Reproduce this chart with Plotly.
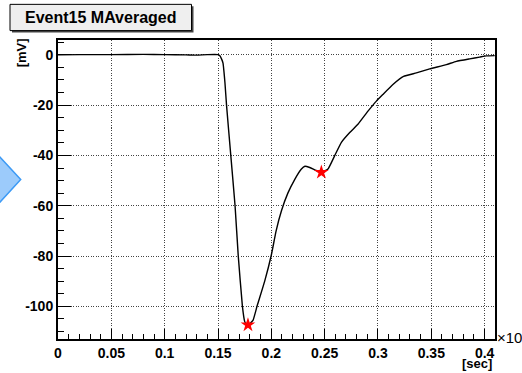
import plotly.graph_objects as go

# Averaged pulse waveform (time axis in units of 1e-3 s, amplitude in mV)
time_axis = [0.0, 0.02, 0.05, 0.08, 0.10, 0.12, 0.13, 0.14, 0.150, 0.1516,
             0.1535, 0.1547, 0.1565, 0.158, 0.162, 0.166, 0.169, 0.1729,
             0.175, 0.1765, 0.1781, 0.180, 0.1828, 0.1866, 0.1938, 0.200,
             0.2045, 0.2095, 0.2155, 0.222, 0.228, 0.2315, 0.236, 0.242,
             0.2469, 0.2531, 0.2594, 0.2657, 0.2735, 0.2812, 0.2906, 0.2985,
             0.3045, 0.314, 0.3240, 0.336, 0.3485, 0.3641, 0.3735, 0.386,
             0.3953, 0.4016, 0.4094]
amplitude = [0.0, 0.1, 0.1, 0.2, 0.1, 0.0, -0.1, 0.1, 0.1, -0.3,
             -1.8, -3.3, -11.0, -20.0, -40.0, -60.0, -80.0, -100.0,
             -106.0, -107.2, -107.4, -106.8, -105.6, -100.0, -90.0, -79.6,
             -70.0, -62.0, -55.0, -49.5, -45.5, -44.3, -44.8, -46.0,
             -46.7, -45.4, -40.1, -34.8, -30.9, -27.6, -22.4, -18.4,
             -15.8, -11.8, -8.6, -7.2, -5.6, -3.9, -2.6, -1.6,
             -0.9, -0.4, -0.3]

# Marked extrema
marker_t = [0.1781, 0.2469]
marker_v = [-107.4, -46.7]

x_ticks = [0, 0.05, 0.1, 0.15, 0.2, 0.25, 0.3, 0.35, 0.4]
x_labels = ["0", "0.05", "0.1", "0.15", "0.2", "0.25", "0.3", "0.35", "0.4"]
y_ticks = [-100, -80, -60, -40, -20, 0]
y_labels = ["-100", "-80", "-60", "-40", "-20", "0"]

W, H = 522, 373
ML, MR, MT, MB = 58, 27, 40, 31
PW, PH = W - ML - MR, H - MT - MB


def px(x):
    return (x - ML) / PW


def py(y):
    return (H - MB - y) / PH


FONT = "Liberation Sans, Arial, Helvetica, sans-serif"

fig = go.Figure()
fig.add_trace(go.Scatter(x=time_axis, y=amplitude, mode="lines",
                         line=dict(color="black", width=1.4, shape="spline",
                                   smoothing=0.4),
                         showlegend=False, hoverinfo="skip"))
fig.add_trace(go.Scatter(x=marker_t, y=marker_v, mode="markers",
                         marker=dict(symbol="star", color="red", size=11,
                                     line=dict(width=0)),
                         showlegend=False, hoverinfo="skip"))

axis_font = dict(family=FONT, size=14, color="black", weight="bold")

fig.update_xaxes(range=[0, 0.4097], tickvals=x_ticks, ticktext=x_labels,
                 ticks="inside", ticklen=10, tickwidth=1, tickcolor="black",
                 minor=dict(dtick=0.01, tick0=0, ticks="inside", ticklen=5,
                            tickcolor="black", showgrid=False),
                 showgrid=True, gridcolor="#444", gridwidth=1, griddash="1px,1.5px",
                 showline=True, linecolor="black", linewidth=2, mirror=True,
                 zeroline=False, tickfont=axis_font)
fig.update_yaxes(range=[-113, 5.9], tickvals=y_ticks, ticktext=y_labels,
                 ticks="inside", ticklen=13, tickwidth=1, tickcolor="black",
                 minor=dict(dtick=5, tick0=0, ticks="inside", ticklen=6,
                            tickcolor="black", showgrid=False),
                 showgrid=True, gridcolor="#444", gridwidth=1, griddash="1px,1.5px",
                 showline=True, linecolor="black", linewidth=2, mirror=True,
                 zeroline=False, tickfont=axis_font)

shapes = [
    # title box shadow and box
    dict(type="rect", xref="paper", yref="paper", x0=px(12), x1=px(193.5),
         y0=py(32.5), y1=py(6), fillcolor="#444", line=dict(width=0), layer="above"),
    dict(type="rect", xref="paper", yref="paper", x0=px(10), x1=px(191.5),
         y0=py(30.5), y1=py(4), fillcolor="#efefef",
         line=dict(color="black", width=1), layer="above"),
    # blue chevron at the left edge
    dict(type="path", xref="paper", yref="paper",
         path=f"M {px(-2)} {py(156)} L {px(20.7)} {py(181)} L {px(-2)} {py(206)} Z",
         fillcolor="#9ccbfb", line=dict(color="#3d9af5", width=1.5), layer="above"),
]

annotations = [
    dict(text="Event15 MAveraged", xref="paper", yref="paper",
         x=px(100.5), y=py(17.5), xanchor="center", yanchor="middle",
         showarrow=False, font=dict(family=FONT, size=16, color="black", weight="bold")),
    dict(text="[mV]", xref="paper", yref="paper", x=px(21.5), y=py(53),
         xanchor="center", yanchor="middle", textangle=-90, showarrow=False,
         font=dict(family=FONT, size=13, color="black", weight="bold")),
    dict(text="[sec]", xref="paper", yref="paper", x=px(494), y=py(366.5),
         xanchor="right", yanchor="middle", showarrow=False,
         font=dict(family=FONT, size=13, color="black", weight="bold")),
    dict(text="×10<sup>-3</sup>", xref="paper", yref="paper", x=px(495), y=py(339),
         xanchor="left", yanchor="middle", showarrow=False,
         font=dict(family=FONT, size=15, color="black")),
]

fig.update_layout(width=W, height=H, margin=dict(l=ML, r=MR, t=MT, b=MB),
                  paper_bgcolor="white", plot_bgcolor="white",
                  shapes=shapes, annotations=annotations)

fig.write_html("out.html")
